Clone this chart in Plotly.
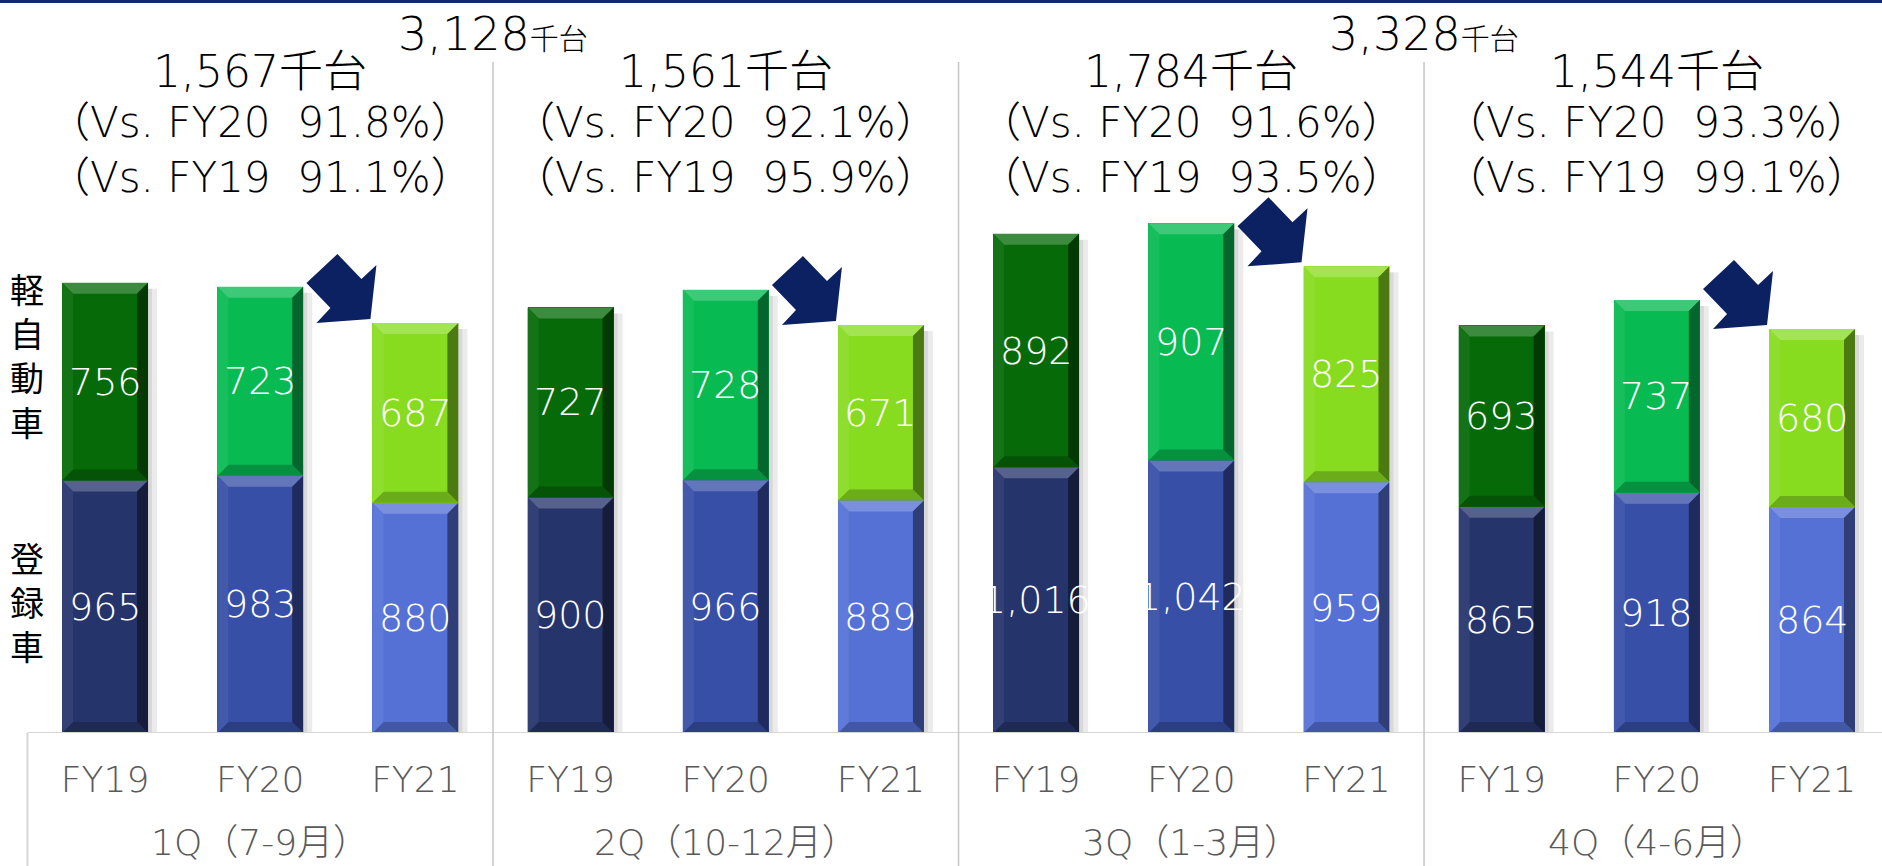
import plotly.graph_objects as go

# ---------------- data ----------------
quarters = ["1Q（7-9月）", "2Q（10-12月）", "3Q（1-3月）", "4Q（4-6月）"]
years = ["FY19", "FY20", "FY21"]
registered = [965, 983, 880, 900, 966, 889, 1016, 1042, 959, 865, 918, 864]
kei = [756, 723, 687, 727, 728, 671, 892, 907, 825, 693, 737, 680]
quarter_totals = ["1,567", "1,561", "1,784", "1,544"]
vs_fy20 = ["91.8%", "92.1%", "91.6%", "93.3%"]
vs_fy19 = ["91.1%", "95.9%", "93.5%", "99.1%"]
half_totals = ["3,128", "3,328"]
series_names = ["登録車", "軽自動車"]
unit = "千台"

# ---------------- styles ----------------
reg_colors = ["#26346C", "#374FA7", "#5571D6"]
kei_colors = ["#066A08", "#07BA52", "#88DC20"]
arrow_color = "#0B2161"
W, H = 1882, 866
PLOT_H = 733                      # plot area height (px)
X_MIN, X_MAX = -0.677, 11.451
Y_MAX = 2802
BAR_W = 0.554
BEVEL_PX = 11
CJK = "Noto Sans CJK JP"
LAT = "DejaVu Sans, Noto Sans CJK JP"
LIGHT = 300

px_per_x = W / (X_MAX - X_MIN)
px_per_y = PLOT_H / Y_MAX

n = len(registered)
xs = list(range(n))
ticktext = [years[i % 3] for i in xs]
reg_c = [reg_colors[i % 3] for i in xs]
kei_c = [kei_colors[i % 3] for i in xs]


def mix(hexc, target, t):
    h = hexc.lstrip("#")
    r, g, b = (int(h[k:k + 2], 16) for k in (0, 2, 4))
    tr, tg, tb = target
    return "#%02X%02X%02X" % (round(r + (tr - r) * t), round(g + (tg - g) * t), round(b + (tb - b) * t))


fig = go.Figure()
for vals, cols, name in [(registered, reg_c, series_names[0]), (kei, kei_c, series_names[1])]:
    fig.add_trace(go.Bar(
        x=xs, y=vals, name=name, width=BAR_W,
        marker=dict(color=cols, line=dict(width=0)),
        textposition="none", hoverinfo="x+y+name",
    ))


def py(px):
    """pixel row (from top) -> paper y"""
    return (PLOT_H - px) / PLOT_H


shapes = []
# soft shadows right of each bar
for i in xs:
    tot = registered[i] + kei[i]
    x1 = i + BAR_W / 2
    for wpx in (9, 4):
        shapes.append(dict(type="rect", xref="x", yref="y", x0=x1, x1=x1 + wpx / px_per_x,
                           y0=0, y1=tot - 6 / px_per_y, fillcolor="rgba(0,0,0,0.08)",
                           line=dict(width=0), layer="below"))

# bevel effect on every stacked segment
bx = BEVEL_PX / px_per_x
by = BEVEL_PX / px_per_y
for i in xs:
    for base, val, col in [(0, registered[i], reg_c[i]), (registered[i], kei[i], kei_c[i])]:
        x0, x1 = i - BAR_W / 2, i + BAR_W / 2
        y0, y1 = base, base + val
        polys = [
            ([(x0, y1), (x1, y1), (x1 - bx, y1 - by), (x0 + bx, y1 - by)], mix(col, (255, 255, 255), 0.22)),
            ([(x0, y0), (x1, y0), (x1 - bx, y0 + by), (x0 + bx, y0 + by)], mix(col, (0, 0, 0), 0.22)),
            ([(x1, y1), (x1, y0), (x1 - bx, y0 + by), (x1 - bx, y1 - by)], mix(col, (0, 0, 0), 0.45)),
            ([(x0, y1), (x0, y0), (x0 + bx, y0 + by), (x0 + bx, y1 - by)], mix(col, (255, 255, 255), 0.06)),
        ]
        for pts, c in polys:
            path = "M " + " L ".join(f"{a:.5f} {b:.3f}" for a, b in pts) + " Z"
            shapes.append(dict(type="path", xref="x", yref="y", path=path,
                               fillcolor=c, line=dict(width=0), layer="above"))

# top navy band
shapes.append(dict(type="rect", xref="paper", yref="paper", x0=0, x1=1,
                   y0=py(3), y1=1, fillcolor="#0E2A6E", line=dict(width=0), layer="above"))
# table lines
shapes.append(dict(type="line", xref="x", yref="y", x0=-0.5, x1=11.7, y0=0, y1=0,
                   line=dict(color="#D6D6D6", width=2), layer="above"))
shapes.append(dict(type="line", xref="x", yref="paper", x0=-0.5, x1=-0.5, y0=py(H), y1=0,
                   line=dict(color="#D6D6D6", width=2)))
for q in range(1, len(quarters)):
    xd = 3 * q - 0.5
    shapes.append(dict(type="line", xref="x", yref="paper", x0=xd, x1=xd, y0=py(H), y1=py(62),
                       line=dict(color="#C4C4C4", width=1.5)))

# arrows: FY20 -> FY21 in each quarter, anchored to the FY21 bar's top-left corner
arrow_path = "M -35 69 L -11 44 L 4 58 L -2 4 L -56 0 L -42 15 L -66 40 Z"
for q in range(len(quarters)):
    i = 3 * q + 2
    shapes.append(dict(type="path", xref="x", yref="y", xsizemode="pixel", ysizemode="pixel",
                       xanchor=i - BAR_W / 2, yanchor=registered[i] + kei[i],
                       path=arrow_path, fillcolor=arrow_color, line=dict(width=0), layer="above"))

annotations = []
# value labels centred in each stacked segment (drawn above the bevel shapes)
for i in xs:
    for base, val in [(0, registered[i]), (registered[i], kei[i])]:
        annotations.append(dict(x=i, xref="x", y=base + val / 2, yref="y", text=f"{val:,}",
                                showarrow=False, xanchor="center", yanchor="middle",
                                font=dict(family=LAT, size=38, color="white", weight=LIGHT)))

for q in range(len(quarters)):
    xc = 3 * q + 1
    # quarter total
    annotations.append(dict(x=xc, xref="x", y=py(71), yref="paper",
                            text=f"{quarter_totals[q]}{unit}",
                            showarrow=False, xanchor="center", yanchor="middle",
                            font=dict(family=LAT, size=44, color="black", weight=LIGHT)))
    # comparisons
    annotations.append(dict(x=xc, xref="x", y=py(150), yref="paper",
                            text=f"（Vs. FY20  {vs_fy20[q]}）<br>（Vs. FY19  {vs_fy19[q]}）",
                            showarrow=False, xanchor="center", yanchor="middle", align="center",
                            font=dict(family=LAT, size=42, color="black", weight=LIGHT)))
    # quarter category labels
    annotations.append(dict(x=xc, xref="x", y=py(842), yref="paper", text=quarters[q],
                            showarrow=False, xanchor="center", yanchor="middle",
                            font=dict(family=LAT, size=36, color="#595959", weight=LIGHT)))
# half-year totals
for h, t in enumerate(half_totals):
    annotations.append(dict(x=6 * h + 2.5, xref="x", y=py(34), yref="paper",
                            text=f"{t}<span style='font-size:29px'>{unit}</span>",
                            showarrow=False, xanchor="center", yanchor="middle",
                            font=dict(family=LAT, size=46, color="black", weight=LIGHT)))
# vertical series names
for name, center in [(series_names[1], 355), (series_names[0], 601)]:
    annotations.append(dict(x=27 / W, xref="paper", y=py(center), yref="paper",
                            text="<br>".join(name),
                            showarrow=False, xanchor="center", yanchor="middle",
                            font=dict(family=CJK, size=34, color="black")))

fig.update_layout(
    width=W, height=H,
    margin=dict(l=0, r=0, t=0, b=H - PLOT_H, pad=0),
    barmode="stack", showlegend=False,
    paper_bgcolor="white", plot_bgcolor="white",
    shapes=shapes, annotations=annotations,
    xaxis=dict(range=[X_MIN, X_MAX], tickmode="array", tickvals=xs, ticktext=ticktext,
               showgrid=False, zeroline=False, showline=False, ticks="",
               ticklabelstandoff=22,
               tickfont=dict(family=LAT, size=36, color="#595959", weight=LIGHT)),
    yaxis=dict(range=[0, Y_MAX], visible=False, showgrid=False, zeroline=False),
)

fig.write_html("out.html", config={"displayModeBar": False})
